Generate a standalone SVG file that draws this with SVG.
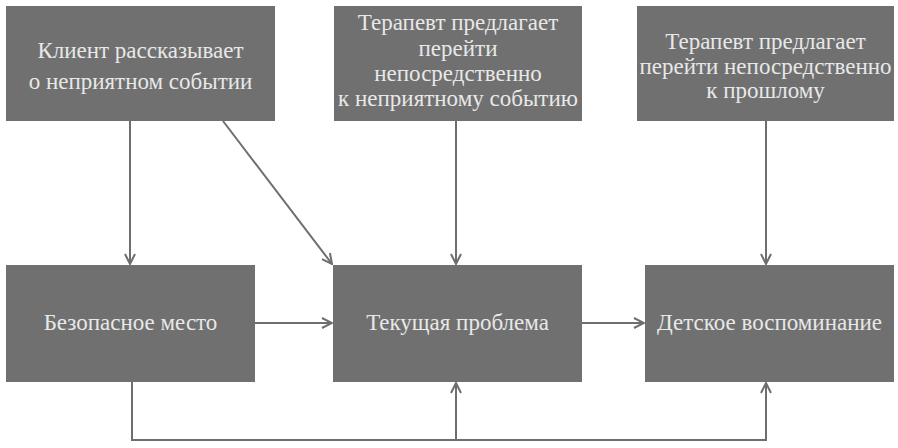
<svg xmlns="http://www.w3.org/2000/svg" width="898" height="448" viewBox="0 0 898 448">
<defs>
<style>
.box{fill:#707070;}
.t{font-family:"Liberation Serif","DejaVu Serif",serif;font-size:23px;fill:#e8e8e8;text-anchor:middle;}
.c{fill:none;stroke:#6e6e6e;stroke-width:2;}
</style>
<marker id="ah" viewBox="0 0 12 12" refX="11" refY="6" markerWidth="12" markerHeight="12" markerUnits="userSpaceOnUse" orient="auto">
<path d="M1,1 L11,6 L1,11" fill="none" stroke="#6e6e6e" stroke-width="2"/>
</marker>
</defs>
<rect width="898" height="448" fill="#ffffff"/>
<g id="connectors">
<line class="c" x1="130" y1="121" x2="130" y2="264" marker-end="url(#ah)"/>
<line class="c" x1="223" y1="121" x2="332" y2="264" marker-end="url(#ah)"/>
<line class="c" x1="456" y1="121" x2="456" y2="264" marker-end="url(#ah)"/>
<line class="c" x1="766" y1="121" x2="766" y2="264" marker-end="url(#ah)"/>
<line class="c" x1="255" y1="323" x2="332" y2="323" marker-end="url(#ah)"/>
<line class="c" x1="582" y1="323" x2="644" y2="323" marker-end="url(#ah)"/>
<polyline class="c" points="132,382 132,440 766,440 766,383" marker-end="url(#ah)"/>
<line class="c" x1="456" y1="440" x2="456" y2="383" marker-end="url(#ah)"/>
</g>
<g id="n1">
<rect class="box" x="6" y="6" width="269" height="115"/>
<text class="t" x="140.5" y="58">Клиент рассказывает</text>
<text class="t" x="140.5" y="89">о неприятном событии</text>
</g>
<g id="n2">
<rect class="box" x="334" y="6" width="248" height="115"/>
<text class="t" x="458" y="30">Терапевт предлагает</text>
<text class="t" x="458" y="55.5">перейти</text>
<text class="t" x="458" y="81">непосредственно</text>
<text class="t" x="458" y="106">к неприятному событию</text>
</g>
<g id="n3">
<rect class="box" x="637" y="6" width="257" height="115"/>
<text class="t" x="765.5" y="49">Терапевт предлагает</text>
<text class="t" x="765.5" y="74">перейти непосредственно</text>
<text class="t" x="765.5" y="98">к прошлому</text>
</g>
<g id="n4">
<rect class="box" x="6" y="265" width="249" height="117"/>
<text class="t" x="130.5" y="330">Безопасное место</text>
</g>
<g id="n5">
<rect class="box" x="333" y="265" width="249" height="117"/>
<text class="t" x="457.5" y="330">Текущая проблема</text>
</g>
<g id="n6">
<rect class="box" x="645" y="265" width="249" height="117"/>
<text class="t" x="769.5" y="330">Детское воспоминание</text>
</g>
</svg>
